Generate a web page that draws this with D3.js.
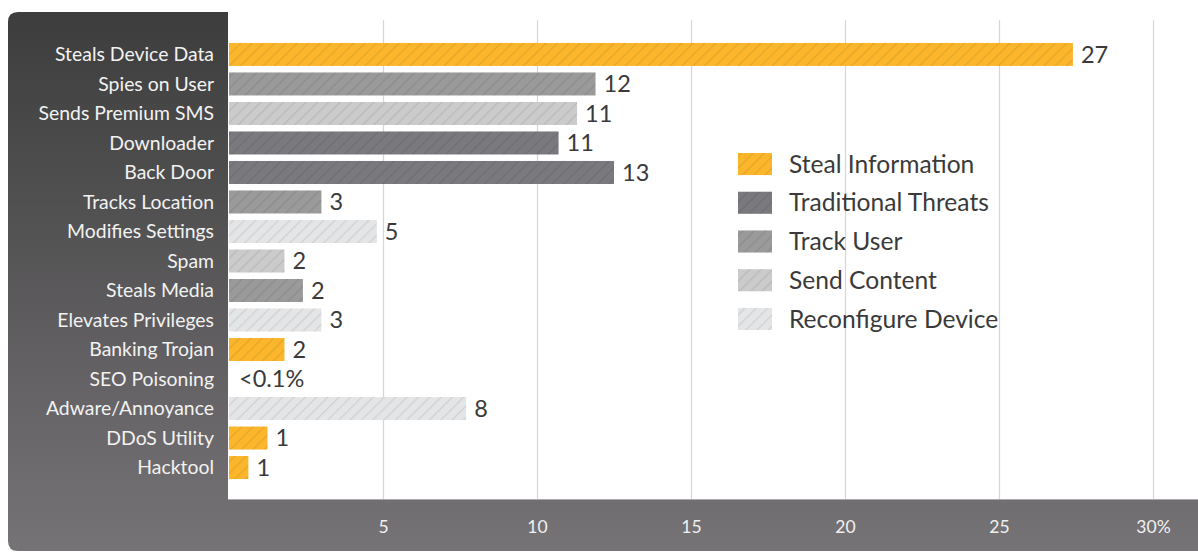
<!DOCTYPE html>
<html><head><meta charset="utf-8">
<script src="https://cdn.jsdelivr.net/npm/d3@7"></script>
<style>html,body{margin:0;padding:0;background:#fff;}svg{display:block;font-family:Lato,"Open Sans",sans-serif;}</style>
</head><body><svg id="c" width="1198" height="552"></svg>
<script>
const categories = ["Steals Device Data","Spies on User","Sends Premium SMS","Downloader","Back Door","Tracks Location","Modifies Settings","Spam","Steals Media","Elevates Privileges","Banking Trojan","SEO Poisoning","Adware/Annoyance","DDoS Utility","Hacktool"];
const values = [27.4, 11.9, 11.3, 10.7, 12.5, 3.0, 4.8, 1.8, 2.4, 3.0, 1.8, 0, 7.7, 1.25, 0.63];
const valueLabels = ["27","12","11","11","13","3","5","2","2","3","2","<0.1%","8","1","1"];
const groups = ["Steal Information","Track User","Send Content","Traditional Threats","Traditional Threats","Track User","Reconfigure Device","Send Content","Track User","Reconfigure Device","Steal Information","Send Content","Reconfigure Device","Steal Information","Steal Information"];
const legendNames = ["Steal Information","Traditional Threats","Track User","Send Content","Reconfigure Device"];
const legendColors = ["#fbb62c","#7a7a7e","#9a9a9a","#cbcbcb","#e4e5e7"];
const tickValues = [5,10,15,20,25,30];

const svg = d3.select("#c");
const defs = svg.append("defs");

// stripes
legendNames.forEach((n,i)=>{
  const p = defs.append("pattern").attr("id","pat"+i).attr("patternUnits","userSpaceOnUse")
    .attr("width",8).attr("height",8).attr("patternTransform","rotate(45)");
  p.append("rect").attr("width",8).attr("height",8).attr("fill",legendColors[i]);
  p.append("line").attr("x1",0).attr("y1",0).attr("x2",0).attr("y2",8)
    .attr("stroke","rgba(0,0,0,0.09)").attr("stroke-width",2.5);
});
const patOf = g => "url(#pat"+legendNames.indexOf(g)+")";

// panel gradient
const grad = defs.append("linearGradient").attr("id","pg").attr("x1",0).attr("y1",0).attr("x2",0).attr("y2",1);
grad.append("stop").attr("offset","0%").attr("stop-color","#3d3d3d");
grad.append("stop").attr("offset","100%").attr("stop-color","#767376");

const x = d3.scaleLinear().domain([0,30]).range([229,1153]);
const y = d3.scaleBand().domain(categories).range([40,482]).paddingInner(0.22).paddingOuter(0.1);

// panel L-shape
const px=8, py=12, pr=10, pw=228, pb=500, pBottom=551;
svg.append("path")
  .attr("d",`M${px},${py+pr} Q${px},${py} ${px+pr},${py} L${pw},${py} L${pw},${pb} L1198,${pb} L1198,${pBottom} L${px+pr},${pBottom} Q${px},${pBottom} ${px},${pBottom-pr} Z`)
  .attr("fill","url(#pg)");
svg.append("line").attr("x1",pw).attr("x2",1198).attr("y1",pb-0.5).attr("y2",pb-0.5).attr("stroke","#aaa").attr("stroke-width",1);

// gridlines
svg.append("g").selectAll("line").data(tickValues).join("line")
  .attr("x1",d=>x(d)+0.5).attr("x2",d=>x(d)+0.5).attr("y1",20).attr("y2",pb-1)
  .attr("stroke","#d6d6d6").attr("stroke-width",1.2);

// bars
svg.append("g").selectAll("rect").data(categories).join("rect")
  .attr("x",x(0)).attr("y",d=>y(d))
  .attr("width",(d,i)=>Math.max(0,x(values[i])-x(0)))
  .attr("height",y.bandwidth())
  .attr("fill",(d,i)=>values[i]>0?patOf(groups[i]):"none");

// value labels
svg.append("g").selectAll("text").data(categories).join("text")
  .attr("x",(d,i)=>x(values[i])+ (values[i]>0?8:10))
  .attr("y",d=>y(d)+y.bandwidth()/2)
  .attr("dy","0.36em").attr("font-size",23.5).attr("fill","#3a3a3a")
  .text((d,i)=>valueLabels[i]);

// category labels
svg.append("g").selectAll("text").data(categories).join("text")
  .attr("x",214).attr("y",d=>y(d)+y.bandwidth()/2)
  .attr("dy","0.35em").attr("text-anchor","end").attr("font-size",19.4).attr("fill","#f2f2f2")
  .text(d=>d);

// x axis
const ax = svg.append("g").attr("transform",`translate(0,${pb})`)
  .call(d3.axisBottom(x).tickValues(tickValues).tickSize(0).tickPadding(21).tickFormat(d=>d===30?"30%":d));
ax.select(".domain").remove();
ax.selectAll("text").attr("font-size",17.5).attr("fill","#f0f0f0").attr("font-family","Lato,'Open Sans',sans-serif");

// legend
const lg = svg.append("g");
const ly = d3.scaleBand().domain(legendNames).range([153,330]).paddingInner(0.43);
lg.selectAll("rect").data(legendNames).join("rect")
  .attr("x",738).attr("y",d=>ly(d)).attr("width",34).attr("height",ly.bandwidth())
  .attr("fill",d=>patOf(d));
lg.selectAll("text").data(legendNames).join("text")
  .attr("x",789).attr("y",d=>ly(d)+ly.bandwidth()/2).attr("dy","0.35em")
  .attr("font-size",24.6).attr("fill","#3a3a3a").text(d=>d);
</script></body></html>
